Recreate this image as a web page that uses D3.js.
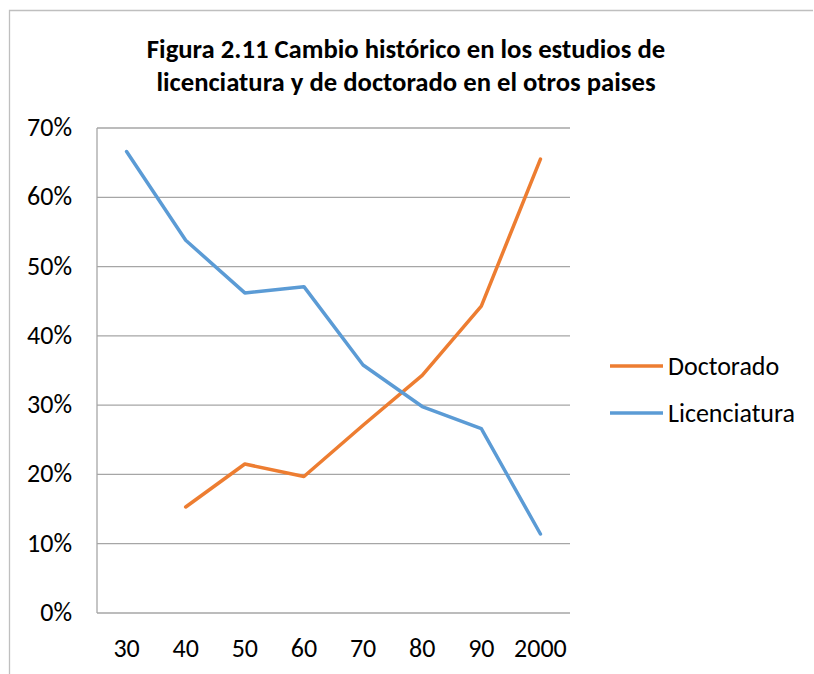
<!DOCTYPE html>
<html lang="es">
<head>
<meta charset="UTF-8">
<title>Figura 2.11</title>
<script src="https://d3js.org/d3.v7.min.js"></script>
<style>
  body { margin: 0; background: #fff; }
  svg { font-family: Carlito, Lato, "Open Sans", sans-serif; }
  .grid line { stroke: #a6a6a6; stroke-width: 1.3px; }
  .series { fill: none; stroke-width: 3.5px; stroke-linejoin: round; stroke-linecap: round; }
</style>
</head>
<body>
<div id="chart"></div>
<script>
// data
const decades = ["30", "40", "50", "60", "70", "80", "90", "2000"];
const doctorado = [null, 0.153, 0.215, 0.197, 0.271, 0.343, 0.443, 0.655];
const licenciatura = [0.666, 0.538, 0.462, 0.471, 0.358, 0.298, 0.266, 0.114];
const yTicks = [0, 0.1, 0.2, 0.3, 0.4, 0.5, 0.6, 0.7];
const seriesNames = ["Doctorado", "Licenciatura"];
const colors = ["#ed7d31", "#5b9bd5"];

const width = 814, height = 674;
const plot = { left: 97, right: 570, top: 128, bottom: 613 };
const fs = 26;

const svg = d3.select("#chart").append("svg")
    .attr("width", width)
    .attr("height", height);

// outer chart border (only top and left are visible)
svg.append("path")
    .attr("d", "M9.5,674 V10.5 H813")
    .attr("fill", "none")
    .attr("stroke", "#bfbfbf")
    .attr("stroke-width", 1.3);

// title
const title = svg.append("text")
    .attr("text-anchor", "middle")
    .attr("font-weight", "bold")
    .attr("font-size", 26.7)
    .attr("fill", "#000");
title.append("tspan").attr("x", 406).attr("y", 58)
    .text("Figura 2.11 Cambio histórico en los estudios de");
title.append("tspan").attr("x", 406).attr("y", 91)
    .text("licenciatura y de doctorado en el otros paises");

const x = d3.scaleBand()
    .domain(decades)
    .range([plot.left, plot.right]);

const y = d3.scaleLinear()
    .domain([0, 0.7])
    .range([plot.bottom, plot.top]);

// horizontal gridlines
svg.append("g").attr("class", "grid")
    .selectAll("line")
    .data(yTicks)
    .join("line")
    .attr("x1", plot.left).attr("x2", plot.right)
    .attr("y1", d => y(d)).attr("y2", d => y(d));

// vertical axis line
svg.append("line")
    .attr("x1", plot.left).attr("x2", plot.left)
    .attr("y1", plot.top).attr("y2", plot.bottom)
    .attr("stroke", "#a6a6a6").attr("stroke-width", 1.3);

// y labels
svg.append("g")
    .selectAll("text")
    .data(yTicks)
    .join("text")
    .attr("x", 72)
    .attr("y", d => y(d) + 8)
    .attr("text-anchor", "end")
    .attr("font-size", fs)
    .text(d3.format(".0%"));

// x labels
svg.append("g")
    .selectAll("text")
    .data(decades)
    .join("text")
    .attr("x", d => x(d) + x.bandwidth() / 2)
    .attr("y", 657)
    .attr("text-anchor", "middle")
    .attr("font-size", fs)
    .text(d => d);

// lines
const line = d3.line()
    .defined(d => d.v != null)
    .x(d => x(d.k) + x.bandwidth() / 2)
    .y(d => y(d.v));

[doctorado, licenciatura].forEach((vals, i) => {
    svg.append("path")
        .attr("class", "series")
        .attr("stroke", colors[i])
        .attr("d", line(decades.map((k, j) => ({ k: k, v: vals[j] }))));
});

// legend
const legend = svg.append("g")
    .selectAll("g")
    .data(seriesNames)
    .join("g")
    .attr("transform", (d, i) => `translate(610, ${366 + i * 47})`);
legend.append("line")
    .attr("x1", 0).attr("x2", 53)
    .attr("stroke", (d, i) => colors[i])
    .attr("stroke-width", 3.5);
legend.append("text")
    .attr("x", 58)
    .attr("y", 9)
    .attr("font-size", fs)
    .text(d => d);
</script>
</body>
</html>
